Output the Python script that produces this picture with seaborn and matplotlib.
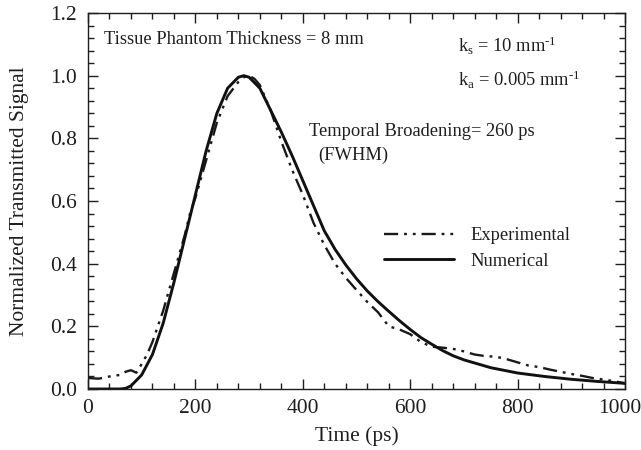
import numpy as np
import pandas as pd
import matplotlib
matplotlib.use("Agg")
import matplotlib.pyplot as plt
import matplotlib.transforms as mtransforms
import seaborn as sns
from matplotlib.ticker import MultipleLocator
from matplotlib.lines import Line2D

# Data
num_time = [0, 40, 60, 70, 80, 100, 120, 140, 160, 180, 200, 220, 240, 260, 280, 290,
            300, 320, 340, 360, 380, 400, 420, 440, 460, 480, 500, 520, 540, 560, 580,
            600, 620, 640, 660, 680, 700, 750, 800, 850, 900, 950, 1000]
num_signal = [0.0, 0.0, 0.0, 0.002, 0.01, 0.045, 0.11, 0.21, 0.34, 0.48, 0.62, 0.76, 0.88,
              0.96, 0.995, 1.0, 0.995, 0.96, 0.89, 0.82, 0.745, 0.665, 0.585, 0.505,
              0.446, 0.396, 0.352, 0.313, 0.279, 0.248, 0.218, 0.19, 0.164, 0.143, 0.123,
              0.106, 0.093, 0.068, 0.051, 0.04, 0.031, 0.024, 0.018]

exp_time = [0, 20, 40, 60, 70, 80, 90, 100, 110, 120, 130, 140, 150, 160, 170, 180, 190,
            200, 220, 240, 260, 280, 290, 300, 310, 320, 340, 360, 380, 400, 420, 440, 460,
            480, 500, 520, 540, 560, 580, 600, 620, 640, 660, 680, 700, 720, 740, 760, 780,
            800, 820, 840, 860, 880, 900, 920, 940, 960, 980, 1000]
exp_signal = [0.035, 0.033, 0.04, 0.045, 0.055, 0.06, 0.052, 0.08, 0.11, 0.15, 0.2, 0.25,
              0.31, 0.37, 0.43, 0.49, 0.56, 0.61, 0.73, 0.85, 0.935, 0.98, 0.995, 1.0, 0.99,
              0.97, 0.89, 0.79, 0.70, 0.62, 0.53, 0.46, 0.40, 0.355, 0.316, 0.278, 0.245,
              0.2, 0.19, 0.175, 0.15, 0.135, 0.132, 0.128, 0.12, 0.11, 0.105, 0.103, 0.095,
              0.085, 0.075, 0.07, 0.062, 0.055, 0.048, 0.042, 0.035, 0.03, 0.025, 0.018]

x_ticks = [0, 200, 400, 600, 800, 1000]
y_ticks = [0.0, 0.2, 0.4, 0.6, 0.8, 1.0, 1.2]

sns.set_style("ticks")
plt.rcParams['font.family'] = ['Liberation Serif', 'DejaVu Serif']
plt.rcParams['mathtext.fontset'] = 'custom'
plt.rcParams['mathtext.rm'] = 'Liberation Serif'
plt.rcParams['mathtext.it'] = 'Liberation Serif'

fig = plt.figure(figsize=(6.41, 4.5), dpi=100)
ax = fig.add_axes([88 / 641, (450 - 389) / 450, (625 - 88) / 641, (389 - 13) / 450])

df_exp = pd.DataFrame({"t": exp_time, "s": exp_signal})
df_num = pd.DataFrame({"t": num_time, "s": num_signal})

exp_style = (0, (6, 2.5, 1.2, 2.5, 1.2, 2.5))
sns.lineplot(data=df_exp, x="t", y="s", ax=ax, color="#1a1a1a", linewidth=1.7,
             linestyle=exp_style)
sns.lineplot(data=df_num, x="t", y="s", ax=ax, color="#111111", linewidth=2.1)

tc = "#1e1e1e"
ax.set_xlim(0, 1000)
ax.set_ylim(0, 1.2)
ax.set_xticks(x_ticks)
ax.set_yticks(y_ticks)
ax.set_xticklabels([str(v) for v in x_ticks])
ax.set_yticklabels([f"{v:.1f}" for v in y_ticks])
ax.xaxis.set_minor_locator(MultipleLocator(40))
ax.yaxis.set_minor_locator(MultipleLocator(0.04))
ax.tick_params(which="both", direction="in", top=True, right=True, labelsize=15.5,
               width=1.0, colors=tc)
ax.tick_params(which="major", length=7)
ax.tick_params(axis="x", which="major", pad=7)
ax.tick_params(axis="y", which="major", pad=8)
ax.tick_params(which="minor", length=4.5)
for sp in ax.spines.values():
    sp.set_linewidth(1.0)
    sp.set_color(tc)

ax.set_xlabel("Time (ps)", fontsize=15.5, color=tc)
ax.set_ylabel("Normalized Transmitted Signal", fontsize=15.5, color=tc)
ax.xaxis.set_label_coords(0.5, -0.1)
ax.yaxis.set_label_coords(-0.11, 0.5)

fs = 13.3
ax.text(0.03, 0.93, "Tissue Phantom Thickness = 8 mm", transform=ax.transAxes,
        fontsize=fs, color=tc, va="center", ha="left")
ax.text(0.689, 0.912, "k$_\\mathrm{s}$ = 10 mm$^{\\mathrm{\u20101}}$", transform=ax.transAxes,
        fontsize=fs, color=tc, va="center", ha="left")
ax.text(0.689, 0.822, "k$_\\mathrm{a}$ = 0.005 mm$^{\\mathrm{\u20101}}$", transform=ax.transAxes,
        fontsize=fs, color=tc, va="center", ha="left")
ax.text(0.412, 0.685, "Temporal Broadening= 260 ps", transform=ax.transAxes,
        fontsize=fs, color=tc, va="center", ha="left")
ax.text(0.428, 0.622, "(FWHM)", transform=ax.transAxes,
        fontsize=fs, color=tc, va="center", ha="left")

handles = [Line2D([], [], color="#1a1a1a", linewidth=1.7, linestyle=exp_style),
           Line2D([], [], color="#111111", linewidth=2.1)]
ax.legend(handles, ["Experimental", "Numerical"], loc="upper left",
          bbox_to_anchor=(0.52, 0.474), frameon=False, fontsize=fs, handlelength=3.8,
          handletextpad=0.9, labelspacing=0.45, labelcolor=tc)

fig.canvas.draw()
last = ax.get_xticklabels()[-1]
last.set_transform(last.get_transform() +
                   mtransforms.ScaledTranslation(-5.5 / 100, 0, fig.dpi_scale_trans))

fig.savefig("out.png", dpi=100)
